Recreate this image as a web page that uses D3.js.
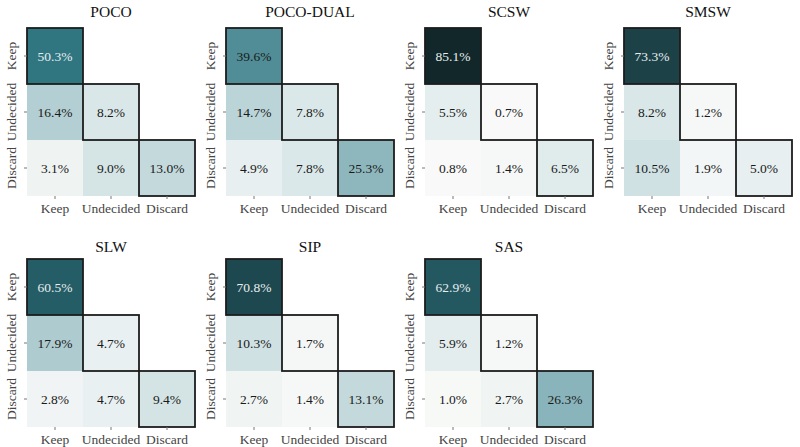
<!DOCTYPE html>
<html>
<head>
<meta charset="utf-8">
<script src="https://cdn.jsdelivr.net/npm/d3@7"></script>
<style>
  body { margin: 0; background: #fff; }
  svg { display: block; }
  svg text { font-family: "Liberation Serif", Tinos, "Times New Roman", Times, "DejaVu Serif", serif !important; }
</style>
</head>
<body>
<svg id="chart" width="800" height="447"></svg>
<script>
// ---- data ----
const titles = ["POCO", "POCO-DUAL", "SCSW", "SMSW", "SLW", "SIP", "SAS"];
const categories = ["Keep", "Undecided", "Discard"];
// lower triangle per panel: [ [Keep], [Undecided row: Keep, Undecided], [Discard row: Keep, Undecided, Discard] ]
const valPOCO     = [[50.3], [16.4, 8.2], [3.1, 9.0, 13.0]];
const valPOCODUAL = [[39.6], [14.7, 7.8], [4.9, 7.8, 25.3]];
const valSCSW     = [[85.1], [5.5, 0.7], [0.8, 1.4, 6.5]];
const valSMSW     = [[73.3], [8.2, 1.2], [10.5, 1.9, 5.0]];
const valSLW      = [[60.5], [17.9, 4.7], [2.8, 4.7, 9.4]];
const valSIP      = [[70.8], [10.3, 1.7], [2.7, 1.4, 13.1]];
const valSAS      = [[62.9], [5.9, 1.2], [1.0, 2.7, 26.3]];
const panelValues = [valPOCO, valPOCODUAL, valSCSW, valSMSW, valSLW, valSIP, valSAS];

// ---- layout ----
const svg = d3.select("#chart");
const cell = 56;
const size = cell * 3;
const colLeft = [27, 226, 425, 624];
const rowTop = [28, 259];
const titleGap = [11, 7];
const FONT = '"Liberation Serif", Tinos, "Times New Roman", Times, "DejaVu Serif", serif';

const color = d3.scaleLinear()
  .domain([0, 5, 10, 15, 25, 40, 50, 60, 70, 85])
  .range(["#fbfbf9", "#e7eff0", "#d1e2e4", "#bad3d6", "#8fb8be", "#4f8c96", "#2f7782", "#255e67", "#1f4a51", "#112729"])
  .interpolate(d3.interpolateRgb)
  .clamp(true);

panelValues.forEach((vals, p) => {
  const r = Math.floor(p / 4), c = p % 4;
  const x0 = colLeft[c], y0 = rowTop[r];
  const g = svg.append("g").attr("transform", `translate(${x0},${y0})`).style("font-family", FONT);

  const x = d3.scaleBand().domain(categories).range([0, size]);
  const y = d3.scaleBand().domain(categories).range([0, size]);

  const cells = [];
  vals.forEach((row, i) => row.forEach((v, j) => cells.push({ row: categories[i], col: categories[j], v, diag: i === j })));

  g.selectAll("rect.cell").data(cells).enter().append("rect")
    .attr("class", "cell")
    .attr("x", d => x(d.col)).attr("y", d => y(d.row))
    .attr("width", x.bandwidth()).attr("height", y.bandwidth())
    .attr("fill", d => color(d.v));

  g.selectAll("text.val").data(cells).enter().append("text")
    .attr("class", "val")
    .attr("x", d => x(d.col) + x.bandwidth() / 2)
    .attr("y", d => y(d.row) + y.bandwidth() / 2)
    .attr("dy", "0.35em")
    .attr("text-anchor", "middle")
    .style("font-size", "13.5px")
    .attr("fill", d => d.v > 45 ? "#e8eef0" : "#1a1a1a")
    .text(d => d.v.toFixed(1) + "%");

  g.selectAll("rect.diag").data(cells.filter(d => d.diag)).enter().append("rect")
    .attr("class", "diag")
    .attr("x", d => x(d.col)).attr("y", d => y(d.row))
    .attr("width", x.bandwidth()).attr("height", y.bandwidth())
    .attr("fill", "none").attr("stroke", "#1c1c1c").attr("stroke-width", 1.8);

  // title
  g.append("text")
    .attr("x", size / 2).attr("y", -titleGap[r])
    .attr("text-anchor", "middle")
    .style("font-size", "15.5px")
    .attr("fill", "#111")
    .text(titles[p]);

  // x axis
  const xa = g.append("g").attr("transform", `translate(0,${size})`)
    .call(d3.axisBottom(x).tickSize(3).tickPadding(4));
  xa.attr("font-family", null).attr("font-size", null);
  xa.select(".domain").remove();
  xa.selectAll("line").attr("stroke", "#777");
  xa.selectAll("text").style("font-size", "13.5px").attr("fill", "#444");

  // y axis
  const ya = g.append("g")
    .call(d3.axisLeft(y).tickSize(3).tickPadding(0));
  ya.attr("font-family", null).attr("font-size", null);
  ya.select(".domain").remove();
  ya.selectAll("line").attr("stroke", "#777");
  ya.selectAll("text")
    .style("font-size", "13.5px").attr("fill", "#444")
    .attr("text-anchor", "middle")
    .attr("x", 0).attr("dy", 0)
    .attr("transform", "translate(-11,0) rotate(-90)");
});
</script>
</body>
</html>
